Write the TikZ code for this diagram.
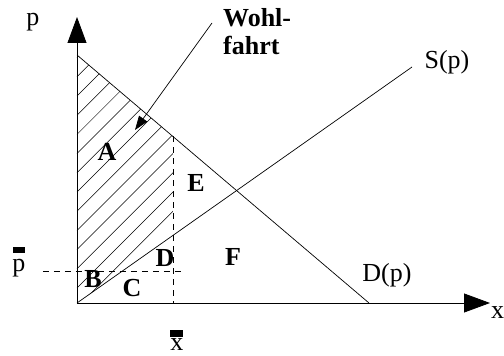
\documentclass[tikz,border=0pt]{standalone}
\usepackage{fontspec}
\setmainfont{Liberation Serif}
\usetikzlibrary{arrows.meta}

\begin{document}
\begin{tikzpicture}[x=1pt, y=1pt]
    \tikzset{
        axis/.style={line width=0.8pt, -{Triangle[length=26pt,width=19pt]}},
        curve/.style={line width=0.7pt},
        guide/.style={line width=0.7pt, dash pattern=on 6pt off 5pt},
        hatch/.style={line width=0.5pt},
        region/.style={font=\fontsize{26}{28}\selectfont\bfseries, inner sep=0pt},
        lbl/.style={font=\fontsize{26}{26}\selectfont, inner sep=0pt},
    }
    \def\xBar{96}
    \def\pBar{32}

    \useasboundingbox (-77,-53) rectangle (427,303);

    % Points of the curves
    \coordinate (O) at (0,0);
    \coordinate (pTop) at (0,286);
    \coordinate (xEnd) at (413,0);
    \coordinate (DTop) at (0,248);
    \coordinate (DBot) at (292,0);
    \coordinate (SEnd) at (335,236);
    \coordinate (DxBar) at (\xBar,166.5);
    \coordinate (SxBar) at (\xBar,67.6);
    \coordinate (xBarFoot) at (\xBar,0);
    \coordinate (pBarLeft) at (-34,\pBar);
    \coordinate (pBarRight) at (106,\pBar);

    % Hatched welfare area
    \begin{scope}
        \clip (O) -- (DTop) -- (DxBar) -- (SxBar) -- cycle;
        \foreach \k in {-1,...,12}
            \draw[hatch] (0,15+19.2*\k) -- ++(260,260);
    \end{scope}

    % Draw axes
    \draw[axis] (O) -- (pTop);
    \draw[axis] (O) -- (xEnd);

    % Demand and supply
    \draw[curve] (DTop) -- (DBot);
    \draw[curve] (O) -- (SEnd);

    % Dashed guides
    \draw[guide] (DxBar) -- (xBarFoot);
    \draw[guide] (pBarLeft) -- (pBarRight);

    % Axis labels
    \node[lbl] (pLabel) at (-44,281) {p};
    \node[lbl, anchor=west] (xLabel) at (414,-10) {x};
    \node[lbl] (SLabel) at (370,241) {S(p)};
    \node[lbl] (DLabel) at (310,28) {D(p)};
    \node[lbl, align=center, anchor=south] (pBarLabel) at (-58,26) {\rule{12pt}{6pt}\\[-7.6pt]p};
    \node[lbl, align=center, anchor=south] (xBarLabel) at (100,-48) {\rule{13pt}{7pt}\\[-12.6pt]x};

    % Areas
    \node[region] (regA) at (30,151) {A};
    \node[region] (regB) at (16,24) {B};
    \node[region] (regC) at (55,15) {C};
    \node[region] (regD) at (88,45) {D};
    \node[region] (regE) at (119,120) {E};
    \node[region] (regF) at (156,46) {F};

    % Welfare label with arrow
    \node[region, align=left, anchor=north west] (welfare) at (146,295) {Wohl-\\fahrt};
    \coordinate (wTail) at (135,280);
    \coordinate (wTip) at (58,173);
    \draw[curve, -{Triangle[length=14pt,width=10pt]}] (wTail) -- (wTip);

\end{tikzpicture}
\end{document}
